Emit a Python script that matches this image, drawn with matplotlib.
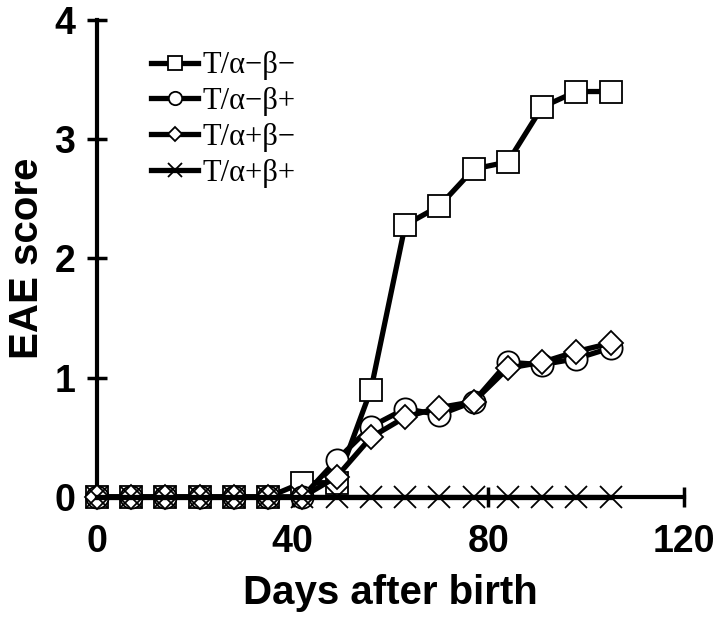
import matplotlib
matplotlib.use("Agg")
import matplotlib.pyplot as plt

days = [0, 7, 14, 21, 28, 35, 42, 49, 56, 63, 70, 77, 84, 91, 98, 105]
sq_vals = [0, 0, 0, 0, 0, 0, 0.12, 0.12, 0.90, 2.28, 2.44, 2.75, 2.81, 3.27, 3.40, 3.40]
circ_vals = [0, 0, 0, 0, 0, 0, 0, 0.31, 0.59, 0.74, 0.69, 0.80, 1.13, 1.11, 1.16, 1.25]
diam_vals = [0, 0, 0, 0, 0, 0, 0, 0.17, 0.50, 0.67, 0.75, 0.80, 1.08, 1.13, 1.22, 1.29]
cross_vals = [0] * 16
labels = ["T/α−β−", "T/α−β+", "T/α+β−", "T/α+β+"]
xticks = [0, 40, 80, 120]
yticks = [0, 1, 2, 3, 4]

fig = plt.figure(figsize=(7.2, 6.24), dpi=100)
ax = fig.add_axes([0.1347, 0.2035, 0.8153, 0.7645])

lw = 3.8
common = dict(color="black", lw=lw, clip_on=False, mfc="white", mec="black")
ax.plot(days, sq_vals, marker="s", ms=16, mew=1.3, label=labels[0], zorder=3, **common)
ax.plot(days, circ_vals, marker="o", ms=16, mew=1.3, label=labels[1], zorder=4, **common)
ax.plot(days, diam_vals, marker="D", ms=12, mew=1.3, label=labels[2], zorder=5, **common)
ax.plot(days, cross_vals, marker="x", ms=16, mew=1.3, label=labels[3], zorder=6,
        color="black", lw=lw, clip_on=False)

ax.set_xlim(0, 120)
ax.set_ylim(0, 4)
ax.set_xticks(xticks)
ax.set_yticks(yticks)
for s in ["top", "right"]:
    ax.spines[s].set_visible(False)
for s in ["left", "bottom"]:
    ax.spines[s].set_linewidth(3)
ax.tick_params(direction="inout", length=15, width=2.5)
ax.tick_params(axis="x", pad=12)
ax.tick_params(axis="y", pad=8)
for t in ax.get_xticklabels() + ax.get_yticklabels():
    t.set_fontfamily("Liberation Sans")
    t.set_fontweight("bold")
    t.set_fontsize(27)

ax.set_xlabel("Days after birth", fontfamily="Liberation Sans", fontweight="bold",
              fontsize=29, labelpad=10)
ax.set_ylabel("EAE score", fontfamily="Liberation Sans", fontweight="bold",
              fontsize=29, labelpad=6)

leg = ax.legend(loc="upper left", bbox_to_anchor=(0.066, 0.966), frameon=False,
                prop={"family": "Liberation Serif", "size": 22},
                handlelength=1.55, handletextpad=0.15, labelspacing=0.22,
                borderpad=0, markerscale=0.6)

fig.savefig("out.png", dpi=100)
